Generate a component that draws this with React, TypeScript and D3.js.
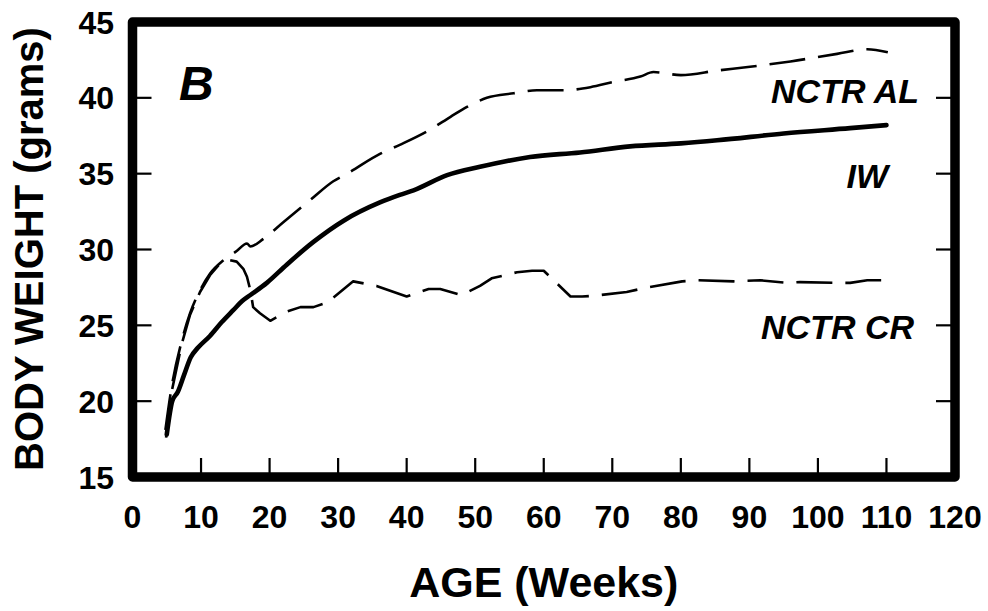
import React from "react";
import * as d3 from "d3";

const xTicks = [0, 10, 20, 30, 40, 50, 60, 70, 80, 90, 100, 110, 120];
const yTicks = [15, 20, 25, 30, 35, 40, 45];

const iwWeeks = [5, 5.8, 6.6, 7.5, 8.5, 9.5, 11.3, 13, 14.7, 16, 17.2, 19.6, 22.5, 26.4, 30.8, 36.1, 39, 41, 45.9, 50.7, 58, 65.3, 72.6, 80, 85.3, 95, 104.7, 110];
const iwWeight = [17.8, 20.0, 20.6, 21.7, 22.9, 23.5, 24.3, 25.2, 26.0, 26.6, 27.0, 27.8, 29.0, 30.5, 31.9, 33.1, 33.6, 33.9, 34.9, 35.45, 36.1, 36.4, 36.8, 37.0, 37.2, 37.65, 38.0, 38.2];

const alWeeks = [4.8, 5.7, 7.2, 8.4, 9.85, 11.3, 13.3, 15.2, 16.7, 17.2, 19.1, 22, 25.9, 29.3, 31.3, 36.1, 39, 43.4, 46.4, 48.8, 51.7, 55.6, 59, 62.9, 66.8, 70.2, 74.1, 76, 80, 85.3, 90.1, 96, 102.8, 107.2, 110.2];
const alWeight = [18.1, 20.9, 24.0, 25.8, 27.3, 28.4, 29.3, 29.9, 30.4, 30.2, 30.7, 31.8, 33.25, 34.5, 35.0, 36.3, 36.9, 37.9, 38.75, 39.4, 40.0, 40.3, 40.5, 40.5, 40.7, 41.05, 41.4, 41.7, 41.5, 41.8, 42.05, 42.4, 42.9, 43.2, 43.0];

const crWeeks = [4.9, 5.7, 7.2, 8.4, 9.85, 11.3, 12.8, 14.2, 15.2, 16.2, 16.7, 17.2, 17.6, 18.6, 20.1, 22.5, 24.5, 26.4, 28.4, 32.2, 35.6, 40, 43.2, 44.9, 48, 50.7, 52.4, 56.1, 58.3, 60, 63.9, 65.6, 67.3, 72.1, 75.1, 80.2, 82.4, 87.7, 91.6, 95.5, 97.4, 102.8, 104.7, 107.2, 110.1];
const crWeight = [17.6, 20.6, 23.8, 25.7, 27.2, 28.3, 29.1, 29.3, 29.2, 28.7, 28.2, 27.3, 26.2, 25.8, 25.3, 25.9, 26.2, 26.2, 26.5, 27.9, 27.6, 26.9, 27.4, 27.4, 27.0, 27.6, 28.1, 28.5, 28.6, 28.6, 26.9, 26.9, 26.95, 27.2, 27.5, 27.9, 27.97, 27.9, 27.97, 27.8, 27.85, 27.8, 27.8, 27.97, 27.97];

const seriesLabels = ["NCTR AL", "IW", "NCTR CR"];
const panelLabel = "B";
const xTitle = "AGE (Weeks)";
const yTitle = "BODY WEIGHT (grams)";

const W = 988;
const H = 611;
const FONT = "'Liberation Sans', Arial, Helvetica, sans-serif";

export default function App() {
  const x = d3.scaleLinear().domain([0, 120]).range([132.5, 955]);
  const y = d3.scaleLinear().domain([15, 45]).range([477, 22]);

  const smooth = d3
    .line<[number, number]>()
    .x((d) => x(d[0]))
    .y((d) => y(d[1]))
    .curve(d3.curveMonotoneX);
  const straight = d3
    .line<[number, number]>()
    .x((d) => x(d[0]))
    .y((d) => y(d[1]))
    .curve(d3.curveLinear);

  const zip = (a: number[], b: number[]) => a.map((v, i) => [v, b[i]] as [number, number]);

  const iwPath = smooth(zip(iwWeeks, iwWeight)) || "";
  const alPath = smooth(zip(alWeeks, alWeight)) || "";
  const crPath = straight(zip(crWeeks, crWeight)) || "";

  const [x0, x1] = x.range();
  const [yb, yt] = y.range();
  const tickLen = 19;

  return (
    <svg
      width={W}
      height={H}
      viewBox={`0 0 ${W} ${H}`}
      style={{ position: "absolute", left: 0, top: 0, background: "#fff" }}
      fontFamily={FONT}
    >
      <rect x={0} y={0} width={W} height={H} fill="#fff" />
      {yTicks
        .filter((t) => t !== 15 && t !== 45)
        .map((t) => (
          <g key={"yt" + t}>
            <line x1={x0} x2={x0 + tickLen} y1={y(t)} y2={y(t)} stroke="#000" strokeWidth={2.2} />
            <line x1={x1} x2={x1 - tickLen} y1={y(t)} y2={y(t)} stroke="#000" strokeWidth={2.2} />
          </g>
        ))}
      {xTicks
        .filter((t) => t !== 0 && t !== 120)
        .map((t) => (
          <line key={"xt" + t} x1={x(t)} x2={x(t)} y1={yb} y2={yb - tickLen} stroke="#000" strokeWidth={2.2} />
        ))}
      <path d={alPath} fill="none" stroke="#000" strokeWidth={2.6} strokeDasharray="36,13" strokeLinejoin="round" />
      <path d={crPath} fill="none" stroke="#000" strokeWidth={2.6} strokeDasharray="36,13" strokeLinejoin="round" />
      <path d={iwPath} fill="none" stroke="#000" strokeWidth={4.6} strokeLinejoin="round" strokeLinecap="round" />
      <rect
        x={x0}
        y={yt}
        width={x1 - x0}
        height={yb - yt}
        fill="none"
        stroke="#000"
        strokeWidth={9.5}
        strokeLinejoin="round"
      />
      {yTicks.map((t) => (
        <text key={"yl" + t} x={114} y={y(t)} dy="0.36em" textAnchor="end" fontSize={32} fontWeight="bold">
          {t}
        </text>
      ))}
      {xTicks.map((t) => (
        <text key={"xl" + t} x={x(t)} y={528} textAnchor="middle" fontSize={32} fontWeight="bold">
          {t}
        </text>
      ))}
      <text x={(x0 + x1) / 2} y={597} textAnchor="middle" fontSize={43} fontWeight="bold">
        {xTitle}
      </text>
      <text
        transform={`translate(43, ${249}) rotate(-90)`}
        textAnchor="middle"
        fontSize={40}
        fontWeight="bold"
      >
        {yTitle}
      </text>
      <text x={179} y={100} fontSize={48} fontWeight="bold" fontStyle="italic">
        {panelLabel}
      </text>
      <text x={919} y={103} textAnchor="end" fontSize={34} fontWeight="bold" fontStyle="italic">
        {seriesLabels[0]}
      </text>
      <text x={888} y={188} textAnchor="end" fontSize={34} fontWeight="bold" fontStyle="italic">
        {seriesLabels[1]}
      </text>
      <text x={914} y={339} textAnchor="end" fontSize={34} fontWeight="bold" fontStyle="italic">
        {seriesLabels[2]}
      </text>
    </svg>
  );
}
